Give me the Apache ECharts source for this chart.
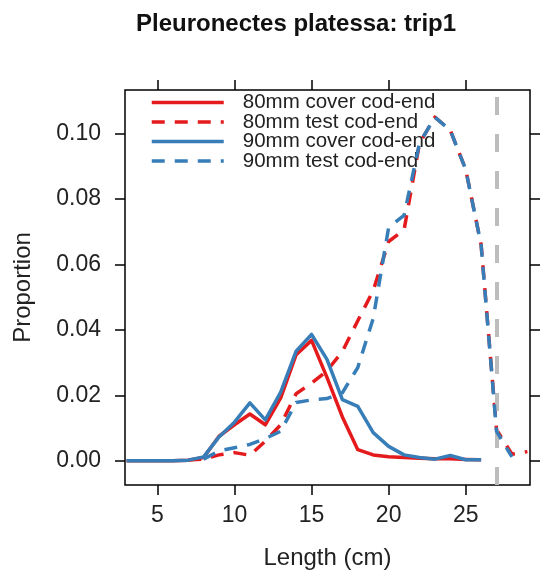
<!DOCTYPE html>
<html><head><meta charset="utf-8">
<script src="https://cdn.jsdelivr.net/npm/echarts@6/dist/echarts.min.js"></script>
<style>html,body{margin:0;padding:0;background:#fff}#c{width:542px;height:577px}</style>
</head><body><div id="c"></div>
<script>
const lengths = [3,4,5,6,7,8,9,10,11,12,13,14,15,16,17,18,19,20,21,22,23,24,25,26,27,28,29];
const cover80 = [0,0,0,0,0.0002,0.001,0.0075,0.011,0.0143,0.011,0.0192,0.0324,0.0368,0.0255,0.0134,0.0034,0.0018,0.0012,0.001,0.0008,0.0006,0.0006,0.0004,0.0003,null,null,null];
const test80 = [null,null,null,null,0.0002,0.0005,0.0018,0.0025,0.0017,0.006,0.011,0.0205,0.0237,0.0275,0.0334,0.0428,0.052,0.067,0.0705,0.097,0.105,0.101,0.089,0.066,0.0095,0.002,0.0028];
const cover90 = [0,0,0,0,0.0002,0.0012,0.0073,0.0118,0.0177,0.0125,0.021,0.0335,0.0386,0.031,0.0187,0.0166,0.0086,0.0044,0.0018,0.001,0.0005,0.0016,0.0003,0.0003,null,null,null];
const test90 = [null,null,null,null,null,0.0005,0.003,0.004,0.005,0.0068,0.009,0.0178,0.0186,0.019,0.0208,0.0285,0.0435,0.0713,0.075,0.097,0.105,0.101,0.089,0.066,0.009,0.0012,null];
const seriesNames = ['80mm cover cod-end','80mm test cod-end','90mm cover cod-end','90mm test cod-end'];
const xTicks = [5,10,15,20,25];
const yTicks = [0,0.02,0.04,0.06,0.08,0.10];
const cutLength = 27;

const RED = '#e41a1c', BLUE = '#377eb8';
const FONT = 'Liberation Sans, Arial, Helvetica, sans-serif';
function pairs(arr){ return lengths.map((l,i)=>[l, arr[i]]); }
const XMIN = 2.9, XMAX = 29.17, YMIN = -0.0074, YMAX = 0.1133;

const tick = {show:true, inside:false, length:10, lineStyle:{color:'#000', width:1.5}};
function xAx(pos, labels){
  return {type:'value', position:pos, min:XMIN, max:XMAX, gridIndex:0,
    axisLine:{show:false, onZero:false}, splitLine:{show:false},
    axisTick:Object.assign({customValues:xTicks}, tick),
    axisLabel:{show:labels, customValues:xTicks, margin:19, fontSize:23, fontFamily:FONT, color:'#222'},
    name: labels ? 'Length (cm)' : '', nameLocation:'middle', nameGap:61,
    nameTextStyle:{fontSize:24, fontFamily:FONT, color:'#222'}};
}
function yAx(pos, labels){
  return {type:'value', position:pos, min:YMIN, max:YMAX, gridIndex:0,
    axisLine:{show:false, onZero:false}, splitLine:{show:false},
    axisTick:Object.assign({customValues:yTicks}, tick),
    axisLabel:{show:labels, customValues:yTicks, margin:24, fontSize:23, fontFamily:FONT, color:'#222',
      formatter:v=>v.toFixed(2)},
    name: labels ? 'Proportion' : '', nameLocation:'middle', nameGap:90,
    nameTextStyle:{fontSize:24, fontFamily:FONT, color:'#222'}};
}
function lineSeries(name, data, color, dashed, z){
  return {name, type:'line', data:pairs(data), xAxisIndex:0, yAxisIndex:0,
    symbol:'none', showSymbol:false, connectNulls:false, clip:true, z,
    lineStyle:{color, width:3.5, type: dashed ? [13,10] : 'solid', join:'round', cap:'butt'},
    itemStyle:{color}, emphasis:{disabled:true}, animation:false};
}
const chart = echarts.init(document.getElementById('c'), null, {renderer:'canvas'});
chart.setOption({
  animation:false,
  backgroundColor:'#fff',
  title:{text:'Pleuronectes platessa: trip1', left:131, top:7,
    textStyle:{fontSize:24, fontWeight:'bold', fontFamily:FONT, color:'#111'}},
  grid:{left:125, right:12, top:90, bottom:92, show:true, borderColor:'#000', borderWidth:1.5, backgroundColor:'transparent'},
  xAxis:[xAx('bottom', true), xAx('top', false)],
  yAxis:[yAx('left', true), yAx('right', false)],
  legend:{orient:'vertical', left:145, top:87, itemWidth:72, itemHeight:18, itemGap:-1.5,
    itemStyle:{opacity:0},
    lineStyle:{width:3.5},
    textStyle:{fontFamily:FONT, fontSize:20.5, color:'#222', padding:[0,0,0,14]},
    data:seriesNames, selectedMode:false},
  series:[
    {type:'line', data:[], xAxisIndex:0, yAxisIndex:0, silent:true, z:1,
      markLine:{silent:true, symbol:['none','none'], label:{show:false}, animation:false,
        lineStyle:{color:'#bdbdbd', width:4, type:[18,19]}, data:[{xAxis:cutLength}]}},
    lineSeries(seriesNames[0], cover80, RED, false, 2),
    lineSeries(seriesNames[1], test80, RED, true, 3),
    lineSeries(seriesNames[2], cover90, BLUE, false, 4),
    lineSeries(seriesNames[3], test90, BLUE, true, 5)
  ]
});
</script></body></html>
